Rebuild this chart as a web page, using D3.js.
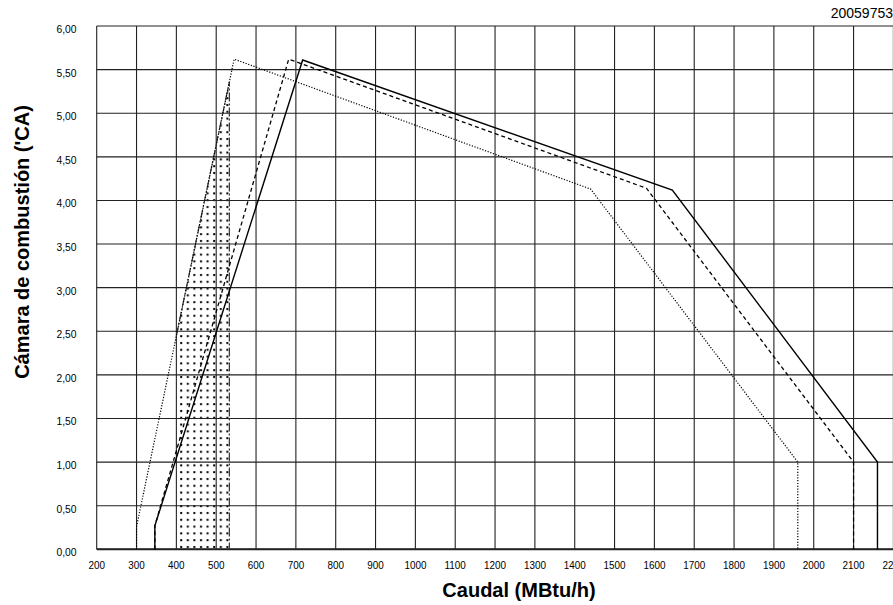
<!DOCTYPE html>
<html>
<head>
<meta charset="utf-8">
<script src="https://cdn.jsdelivr.net/npm/d3@7"></script>
<style>
  html, body { margin: 0; padding: 0; background: #fff; }
  svg { display: block; }
  text { font-family: "Liberation Sans", Arial, sans-serif; fill: #000; }
</style>
</head>
<body>
<svg id="chart" width="893" height="605"></svg>
<script>
// ---- data ----
const xTicks = [200, 300, 400, 500, 600, 700, 800, 900, 1000, 1100, 1200, 1300, 1400, 1500, 1600, 1700, 1800, 1900, 2000, 2100, 2200];
const yTicks = [0, 0.5, 1.0, 1.5, 2.0, 2.5, 3.0, 3.5, 4.0, 4.5, 5.0, 5.5, 6.0];
const yTickLabels = ["0,00", "0,50", "1,00", "1,50", "2,00", "2,50", "3,00", "3,50", "4,00", "4,50", "5,00", "5,50", "6,00"];

const solidX = [346, 346, 717, 1645, 2160, 2160];
const solidY = [0, 0.27, 5.61, 4.12, 1.0, 0];
const dashedX = [346, 346, 682, 1580, 2100, 2100];
const dashedY = [0, 0.27, 5.62, 4.14, 1.0, 0];
const dottedX = [300, 300, 545, 1440, 1960, 1960];
const dottedY = [0, 0.26, 5.62, 4.13, 1.0, 0];

const zoneX = [400, 400, 533, 533];
const zoneY = [0, 2.45, 5.36, 0];
const zoneEdgeX = [400, 533, 533];
const zoneEdgeY = [2.45, 5.36, 0];

const xTitle = "Caudal (MBtu/h)";
const yTitle = "Cámara de combustión ('CA)";
const codeLabel = "20059753";

// ---- scales ----
const svg = d3.select("#chart");
const x = d3.scaleLinear().domain([200, 2200]).range([96.7, 893.4]);
const y = d3.scaleLinear().domain([0, 6]).range([549.3, 26]);

// stipple pattern
const defs = svg.append("defs");
const pat = defs.append("pattern")
  .attr("id", "stipple").attr("patternUnits", "userSpaceOnUse")
  .attr("width", 6.6).attr("height", 6.8).attr("x", 0).attr("y", 0);
pat.append("rect").attr("x", 2).attr("y", 2).attr("width", 2).attr("height", 2).attr("fill", "#000");

// stippled zone
const zonePts = zoneX.map((d, i) => [x(d), y(zoneY[i])]);
svg.append("path")
  .attr("d", d3.line()(zonePts) + "Z")
  .attr("fill", "url(#stipple)").attr("stroke", "none");

// grid
svg.append("g").selectAll("line").data(xTicks).join("line")
  .attr("x1", d => x(d)).attr("x2", d => x(d))
  .attr("y1", y(6)).attr("y2", y(0))
  .attr("stroke", "#222").attr("stroke-width", 1.1);
svg.append("g").selectAll("line").data(yTicks).join("line")
  .attr("x1", x(200)).attr("x2", x(2200))
  .attr("y1", d => y(d)).attr("y2", d => y(d))
  .attr("stroke", "#222").attr("stroke-width", 1.1);
// bottom axis line
svg.append("line")
  .attr("x1", x(200)).attr("x2", x(2200)).attr("y1", y(0)).attr("y2", y(0))
  .attr("stroke", "#222").attr("stroke-width", 2);

// zone edge (dash-dot)
svg.append("path")
  .attr("d", d3.line()(zoneEdgeX.map((d, i) => [x(d), y(zoneEdgeY[i])])))
  .attr("fill", "none").attr("stroke", "#333").attr("stroke-width", 1.2)
  .attr("stroke-dasharray", "9,2,2,2");

// curves
const line = d3.line().x(d => x(d[0])).y(d => y(d[1]));
function curve(xs, ys, dash, w) {
  svg.append("path")
    .attr("d", line(xs.map((d, i) => [d, ys[i]])))
    .attr("fill", "none").attr("stroke", "#000").attr("stroke-width", w)
    .attr("stroke-linejoin", "miter")
    .attr("stroke-dasharray", dash);
}
curve(dottedX, dottedY, "1.2,1.6", 1.2);
curve(dashedX, dashedY, "4,3", 1.3);
curve(solidX, solidY, null, 1.4);

// tick labels
svg.append("g").selectAll("text").data(xTicks).join("text")
  .attr("transform", d => `translate(${x(d)},569.3) scale(0.9,1)`)
  .attr("text-anchor", "middle").attr("font-size", 11)
  .text(d => d);
svg.append("g").selectAll("text").data(yTicks).join("text")
  .attr("x", 76.5).attr("y", d => y(d) + 7)
  .attr("text-anchor", "end").attr("font-size", 10.3)
  .text((d, i) => yTickLabels[i]);

// titles
svg.append("text")
  .attr("x", 519).attr("y", 597)
  .attr("text-anchor", "middle").attr("font-size", 20).attr("font-weight", "bold")
  .text(xTitle);
svg.append("text")
  .attr("transform", "translate(29,242) rotate(-90)")
  .attr("text-anchor", "middle").attr("font-size", 20).attr("font-weight", "bold")
  .text(yTitle);
svg.append("text")
  .attr("x", 893).attr("y", 18)
  .attr("text-anchor", "end").attr("font-size", 14)
  .text(codeLabel);
</script>
</body>
</html>
